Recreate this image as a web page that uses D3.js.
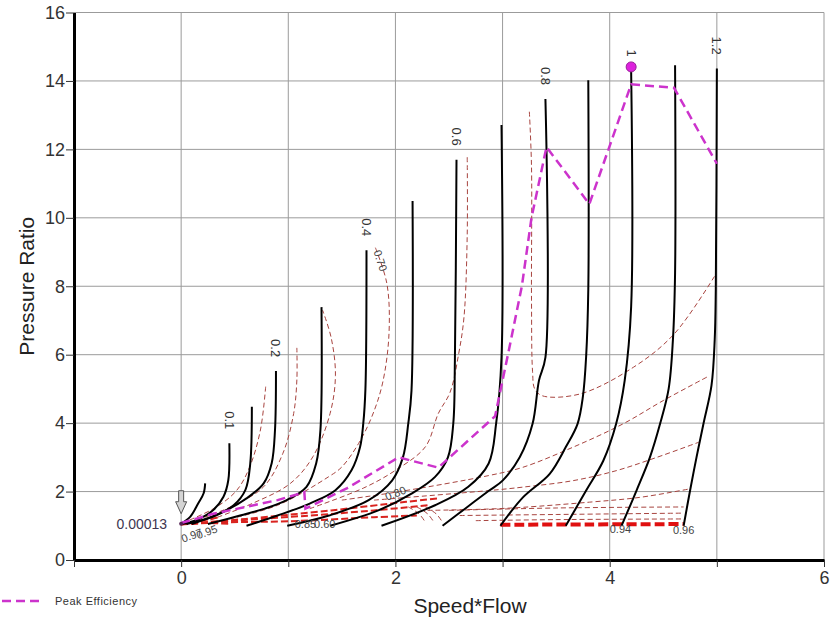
<!DOCTYPE html>
<html>
<head>
<meta charset="utf-8">
<script src="https://cdn.jsdelivr.net/npm/d3@7"></script>
<style>
body { margin: 0; background: #fff; }
text { font-family: "Liberation Sans", Arial, sans-serif; }
</style>
</head>
<body>
<div id="chart"></div>
<script>
// corrected speeds and the [speed*flow, pressure ratio] points of each speed line
const speeds = [0.05, 0.1, 0.15, 0.2, 0.3, 0.4, 0.5, 0.6, 0.7, 0.8, 0.9, 1.0, 1.1, 1.2];
const speedLines = [
    [[0, 1.06], [0.084, 1.26], [0.16, 1.66], [0.21, 1.95], [0.224, 2.24]],
    [[0, 1.05], [0.146, 1.17], [0.3, 1.46], [0.395, 1.85], [0.44, 2.33], [0.45, 3.41]],
    [[0.05, 1.05], [0.3, 1.27], [0.49, 1.6], [0.6, 2.05], [0.645, 2.82], [0.66, 4.48]],
    [[0.1, 1.05], [0.36, 1.36], [0.61, 1.8], [0.77, 2.24], [0.845, 2.83], [0.876, 3.8], [0.885, 5.52]],
    [[0.25, 1.05], [0.55, 1.3], [0.78, 1.5], [0.985, 1.75], [1.17, 2.14], [1.26, 2.82], [1.3, 3.8], [1.31, 7.39]],
    [[0.61, 1.0], [0.9, 1.3], [1.2, 1.65], [1.44, 2.04], [1.59, 2.62], [1.67, 3.3], [1.70, 3.99], [1.72, 5.0], [1.73, 9.05]],
    [[0.99, 1.0], [1.38, 1.3], [1.75, 1.75], [1.97, 2.33], [2.07, 3.0], [2.12, 3.99], [2.15, 4.95], [2.16, 10.49]],
    [[1.39, 1.0], [1.84, 1.45], [2.15, 1.94], [2.37, 2.43], [2.49, 3.0], [2.54, 3.99], [2.555, 5.82], [2.57, 11.7]],
    [[1.87, 1.0], [2.37, 1.6], [2.68, 2.14], [2.87, 2.82], [2.94, 3.99], [2.99, 5.92], [2.99, 12.71]],
    [[2.44, 1.0], [2.65, 1.5], [2.875, 2.03], [3.0, 2.32], [3.16, 3.0], [3.28, 3.98], [3.34, 5.25], [3.4, 5.92], [3.4, 13.47]],
    [[2.98, 1.0], [3.19, 1.83], [3.44, 2.52], [3.59, 3.3], [3.7, 3.98], [3.75, 4.78], [3.78, 5.95], [3.8, 7.9], [3.8, 14.02]],
    [[3.59, 1.0], [3.78, 2.03], [3.94, 2.9], [4.06, 3.98], [4.14, 5.25], [4.2, 7.4], [4.2, 14.3]],
    [[4.11, 1.0], [4.25, 2.03], [4.375, 3.0], [4.47, 3.98], [4.55, 5.0], [4.59, 6.44], [4.61, 8.39], [4.61, 14.46]],
    [[4.69, 1.0], [4.75, 2.03], [4.81, 3.0], [4.875, 3.98], [4.95, 5.1], [4.98, 6.44], [4.99, 7.9], [5.0, 14.36]]
];
const labelledSpeeds = [0.1, 0.2, 0.4, 0.6, 0.8, 1.0, 1.2];
const speedLabels = ["0.1", "0.2", "0.4", "0.6", "0.8", "1", "1.2"];

// peak efficiency line
const peakEff = [[0, 1.08], [0.3, 1.35], [0.6, 1.55], [0.9, 1.75], [1.15, 1.98], [1.16, 1.5], [1.55, 2.1],
    [2.03, 3.0], [2.4, 2.7], [2.93, 4.2], [3.05, 6.0], [3.18, 8.0], [3.27, 10.0], [3.41, 12.07],
    [3.81, 10.4], [4.2, 13.9], [4.6, 13.8], [5.0, 11.58]];
const designPoint = [4.2, 14.41];
const startPoint = [0, 1.06];
const startLabel = "0.00013";

// efficiency contours (thin dashed)
const effContours = [
    [[0.08, 1.17], [0.33, 1.55], [0.52, 2.04], [0.64, 2.72], [0.74, 3.8], [0.79, 5.1]],
    [[0.15, 1.17], [0.46, 1.55], [0.77, 2.14], [0.95, 3.12], [1.05, 4.28], [1.08, 5.26], [1.08, 6.2]],
    [[0.27, 1.17], [0.67, 1.66], [1.02, 2.24], [1.23, 3.02], [1.39, 4.28], [1.44, 5.4], [1.4, 6.5], [1.32, 7.3]],
    [[0.45, 1.2], [0.9, 1.6], [1.375, 2.43], [1.5, 2.72], [1.655, 3.4], [1.78, 4.19], [1.88, 5.17], [1.94, 6.62], [1.92, 8.08], [1.81, 9.15]],
    [[1.2, 1.5], [1.7, 2.1], [2.0, 2.62], [2.28, 3.31], [2.4, 4.28], [2.51, 4.9], [2.59, 6.02], [2.64, 7.1], [2.67, 9.5], [2.67, 11.8]],
    [[3.25, 13.1], [3.27, 11.5], [3.27, 7.6], [3.28, 5.5], [3.3, 5.0], [3.37, 4.8], [3.72, 4.85], [4.22, 5.63], [4.6, 6.6], [4.98, 8.3]],
    [[1.5, 1.75], [2.04, 2.0], [2.875, 2.47], [3.19, 2.71], [3.66, 3.3], [4.125, 3.98], [4.5, 4.66], [4.91, 5.35]],
    [[1.8, 1.75], [2.875, 2.03], [3.19, 2.13], [3.66, 2.32], [4.06, 2.61], [4.44, 3.0], [4.83, 3.44]],
    [[2.3, 1.45], [2.875, 1.49], [3.19, 1.54], [3.81, 1.69], [4.28, 1.83], [4.75, 2.08]],
    [[2.5, 1.45], [3.5, 1.52], [4.69, 1.55]],
    [[2.6, 1.3], [3.5, 1.33], [4.69, 1.37]],
    [[2.75, 1.15], [3.5, 1.18], [4.69, 1.2]],
    [[2.12, 1.55], [2.22, 1.35], [2.28, 1.1]],
    [[2.2, 1.55], [2.3, 1.35], [2.36, 1.1]],
    [[2.28, 1.55], [2.38, 1.35], [2.44, 1.1]]
];
// high efficiency contours near PR 1 (red, heavier)
const redContours = [
    [[0, 1.05], [0.5, 1.15], [1.2, 1.3], [1.8, 1.45], [2.3, 1.6]],
    [[0, 1.05], [0.6, 1.2], [1.4, 1.45], [2.1, 1.7], [2.4, 1.8]],
    [[0, 1.04], [0.4, 1.1], [1.0, 1.13], [1.8, 1.25], [2.2, 1.3]],
    [[0, 1.05], [0.2, 1.15], [0.35, 1.25]],
    [[0, 1.04], [0.2, 1.08], [0.45, 1.06]]
];
const bottomContour = [[2.98, 1.03], [3.8, 1.04], [4.69, 1.05]];

// contour value labels [x, pr, text, angle]
const effLabels = [
    [1.86, 8.75, "0.70", 72],
    [2.0, 1.95, "0.80", -22],
    [0.1, 0.72, "0.97", -20],
    [0.24, 0.82, "0.95", -20],
    [1.16, 1.05, "0.85", 0],
    [1.34, 1.05, "0.60", 0],
    [4.1, 0.9, "0.94", 0],
    [4.69, 0.87, "0.96", 0]
];

// axes
const xTicks = [-1, 0, 1, 2, 3, 4, 5, 6];
const yTicks = [0, 2, 4, 6, 8, 10, 12, 14, 16];

const width = 839, height = 622;
const svg = d3.select("#chart").append("svg")
    .attr("width", width)
    .attr("height", height);

const x = d3.scaleLinear().domain([-1, 6]).range([74, 824]);
const y = d3.scaleLinear().domain([0, 16]).range([560, 12.5]);

// grid
svg.append("g").selectAll("line.gx")
    .data(xTicks.filter(d => d >= 0))
    .enter().append("line")
    .attr("x1", d => x(d)).attr("x2", d => x(d))
    .attr("y1", y(0)).attr("y2", y(16))
    .attr("stroke", "#9b9b9b").attr("stroke-width", 1);
svg.append("g").selectAll("line.gy")
    .data(yTicks.filter(d => d > 0))
    .enter().append("line")
    .attr("x1", x(-1)).attr("x2", x(6))
    .attr("y1", d => y(d)).attr("y2", d => y(d))
    .attr("stroke", "#9b9b9b").attr("stroke-width", 1);

const line = d3.line()
    .x(d => x(d[0]))
    .y(d => y(d[1]))
    .curve(d3.curveCatmullRom.alpha(0.5));

// efficiency contours
svg.append("g").selectAll("path")
    .data(effContours)
    .enter().append("path")
    .attr("d", line)
    .attr("fill", "none")
    .attr("stroke", "#a8443f")
    .attr("stroke-width", 1)
    .attr("stroke-dasharray", "5,3");

svg.append("g").selectAll("path")
    .data(redContours)
    .enter().append("path")
    .attr("d", line)
    .attr("fill", "none")
    .attr("stroke", "#d9231f")
    .attr("stroke-width", 2)
    .attr("stroke-dasharray", "7,3");

svg.append("path")
    .attr("d", line(bottomContour))
    .attr("fill", "none")
    .attr("stroke", "#e01010")
    .attr("stroke-width", 4)
    .attr("stroke-dasharray", "10,4");

// speed lines
svg.append("g").selectAll("path")
    .data(speedLines)
    .enter().append("path")
    .attr("d", line)
    .attr("fill", "none")
    .attr("stroke", "#000")
    .attr("stroke-width", 2);

// peak efficiency
svg.append("path")
    .attr("d", d3.line().x(d => x(d[0])).y(d => y(d[1]))(peakEff))
    .attr("fill", "none")
    .attr("stroke", "#cc33cc")
    .attr("stroke-width", 2.5)
    .attr("stroke-dasharray", "9,5");

svg.append("circle")
    .attr("cx", x(designPoint[0]))
    .attr("cy", y(designPoint[1]))
    .attr("r", 5)
    .attr("fill", "#dd22dd")
    .attr("stroke", "#992299");

// speed labels, rotated
svg.append("g").selectAll("text")
    .data(labelledSpeeds)
    .enter().append("text")
    .attr("transform", function (d) {
        const pts = speedLines[speeds.indexOf(d)];
        const top = pts[pts.length - 1];
        return `translate(${x(top[0])},${y(top[1]) - 14}) rotate(90)`;
    })
    .attr("dy", "0.35em")
    .attr("text-anchor", "end")
    .attr("font-size", 13)
    .attr("fill", "#333")
    .text((d, i) => speedLabels[i]);

// contour labels
svg.append("g").selectAll("text")
    .data(effLabels)
    .enter().append("text")
    .attr("transform", d => `translate(${x(d[0])},${y(d[1])}) rotate(${d[3]})`)
    .attr("text-anchor", "middle")
    .attr("dy", "0.35em")
    .attr("font-size", 11)
    .attr("fill", "#444")
    .text(d => d[2]);

// start point marker and arrow
svg.append("circle")
    .attr("cx", x(startPoint[0])).attr("cy", y(startPoint[1]))
    .attr("r", 2).attr("fill", "#552255");
const ax = x(startPoint[0]), ay = y(startPoint[1]) - 10;
svg.append("path")
    .attr("d", `M${ax - 2.5},${ay - 23} L${ax + 2.5},${ay - 23} L${ax + 2.5},${ay - 12} L${ax + 5.5},${ay - 12} L${ax},${ay} L${ax - 5.5},${ay - 12} L${ax - 2.5},${ay - 12} Z`)
    .attr("fill", "#d4d4d4")
    .attr("stroke", "#555")
    .attr("stroke-width", 1);
svg.append("text")
    .attr("x", x(startPoint[0]) - 14)
    .attr("y", y(startPoint[1]) + 5)
    .attr("text-anchor", "end")
    .attr("font-size", 14)
    .attr("fill", "#403650")
    .text(startLabel);

// axes
const yAxis = svg.append("g")
    .attr("transform", `translate(${x(-1)},0)`)
    .call(d3.axisLeft(y).tickValues(yTicks).tickSize(8).tickPadding(1).tickSizeOuter(0));
const xAxis = svg.append("g")
    .attr("transform", `translate(0,${y(0)})`)
    .call(d3.axisBottom(x).tickValues(xTicks).tickSize(7).tickPadding(4).tickSizeOuter(0)
        .tickFormat(d => (d >= 0 && d % 2 === 0) ? d : ""));
[yAxis, xAxis].forEach(g => {
    g.select(".domain").attr("stroke", "#000").attr("stroke-width", 3);
    g.selectAll(".tick line").attr("stroke", "#333").attr("stroke-width", 1);
    g.selectAll(".tick text").attr("font-size", 18).attr("fill", "#333")
        .attr("font-family", "Liberation Sans, Arial, sans-serif");
});

svg.append("text")
    .attr("transform", `translate(34,${y(8)}) rotate(-90)`)
    .attr("text-anchor", "middle")
    .attr("font-size", 21)
    .attr("fill", "#222")
    .text("Pressure Ratio");
svg.append("text")
    .attr("x", 470)
    .attr("y", 613)
    .attr("text-anchor", "middle")
    .attr("font-size", 21)
    .attr("fill", "#222")
    .text("Speed*Flow");

// legend
svg.append("line")
    .attr("x1", 2).attr("x2", 44).attr("y1", 601).attr("y2", 601)
    .attr("stroke", "#cc33cc").attr("stroke-width", 2.5).attr("stroke-dasharray", "9,5");
svg.append("text")
    .attr("x", 55).attr("y", 605)
    .attr("font-size", 11)
    .attr("letter-spacing", 0.5)
    .attr("font-family", "DejaVu Sans, sans-serif")
    .attr("fill", "#333")
    .text("Peak Efficiency");
</script>
</body>
</html>
